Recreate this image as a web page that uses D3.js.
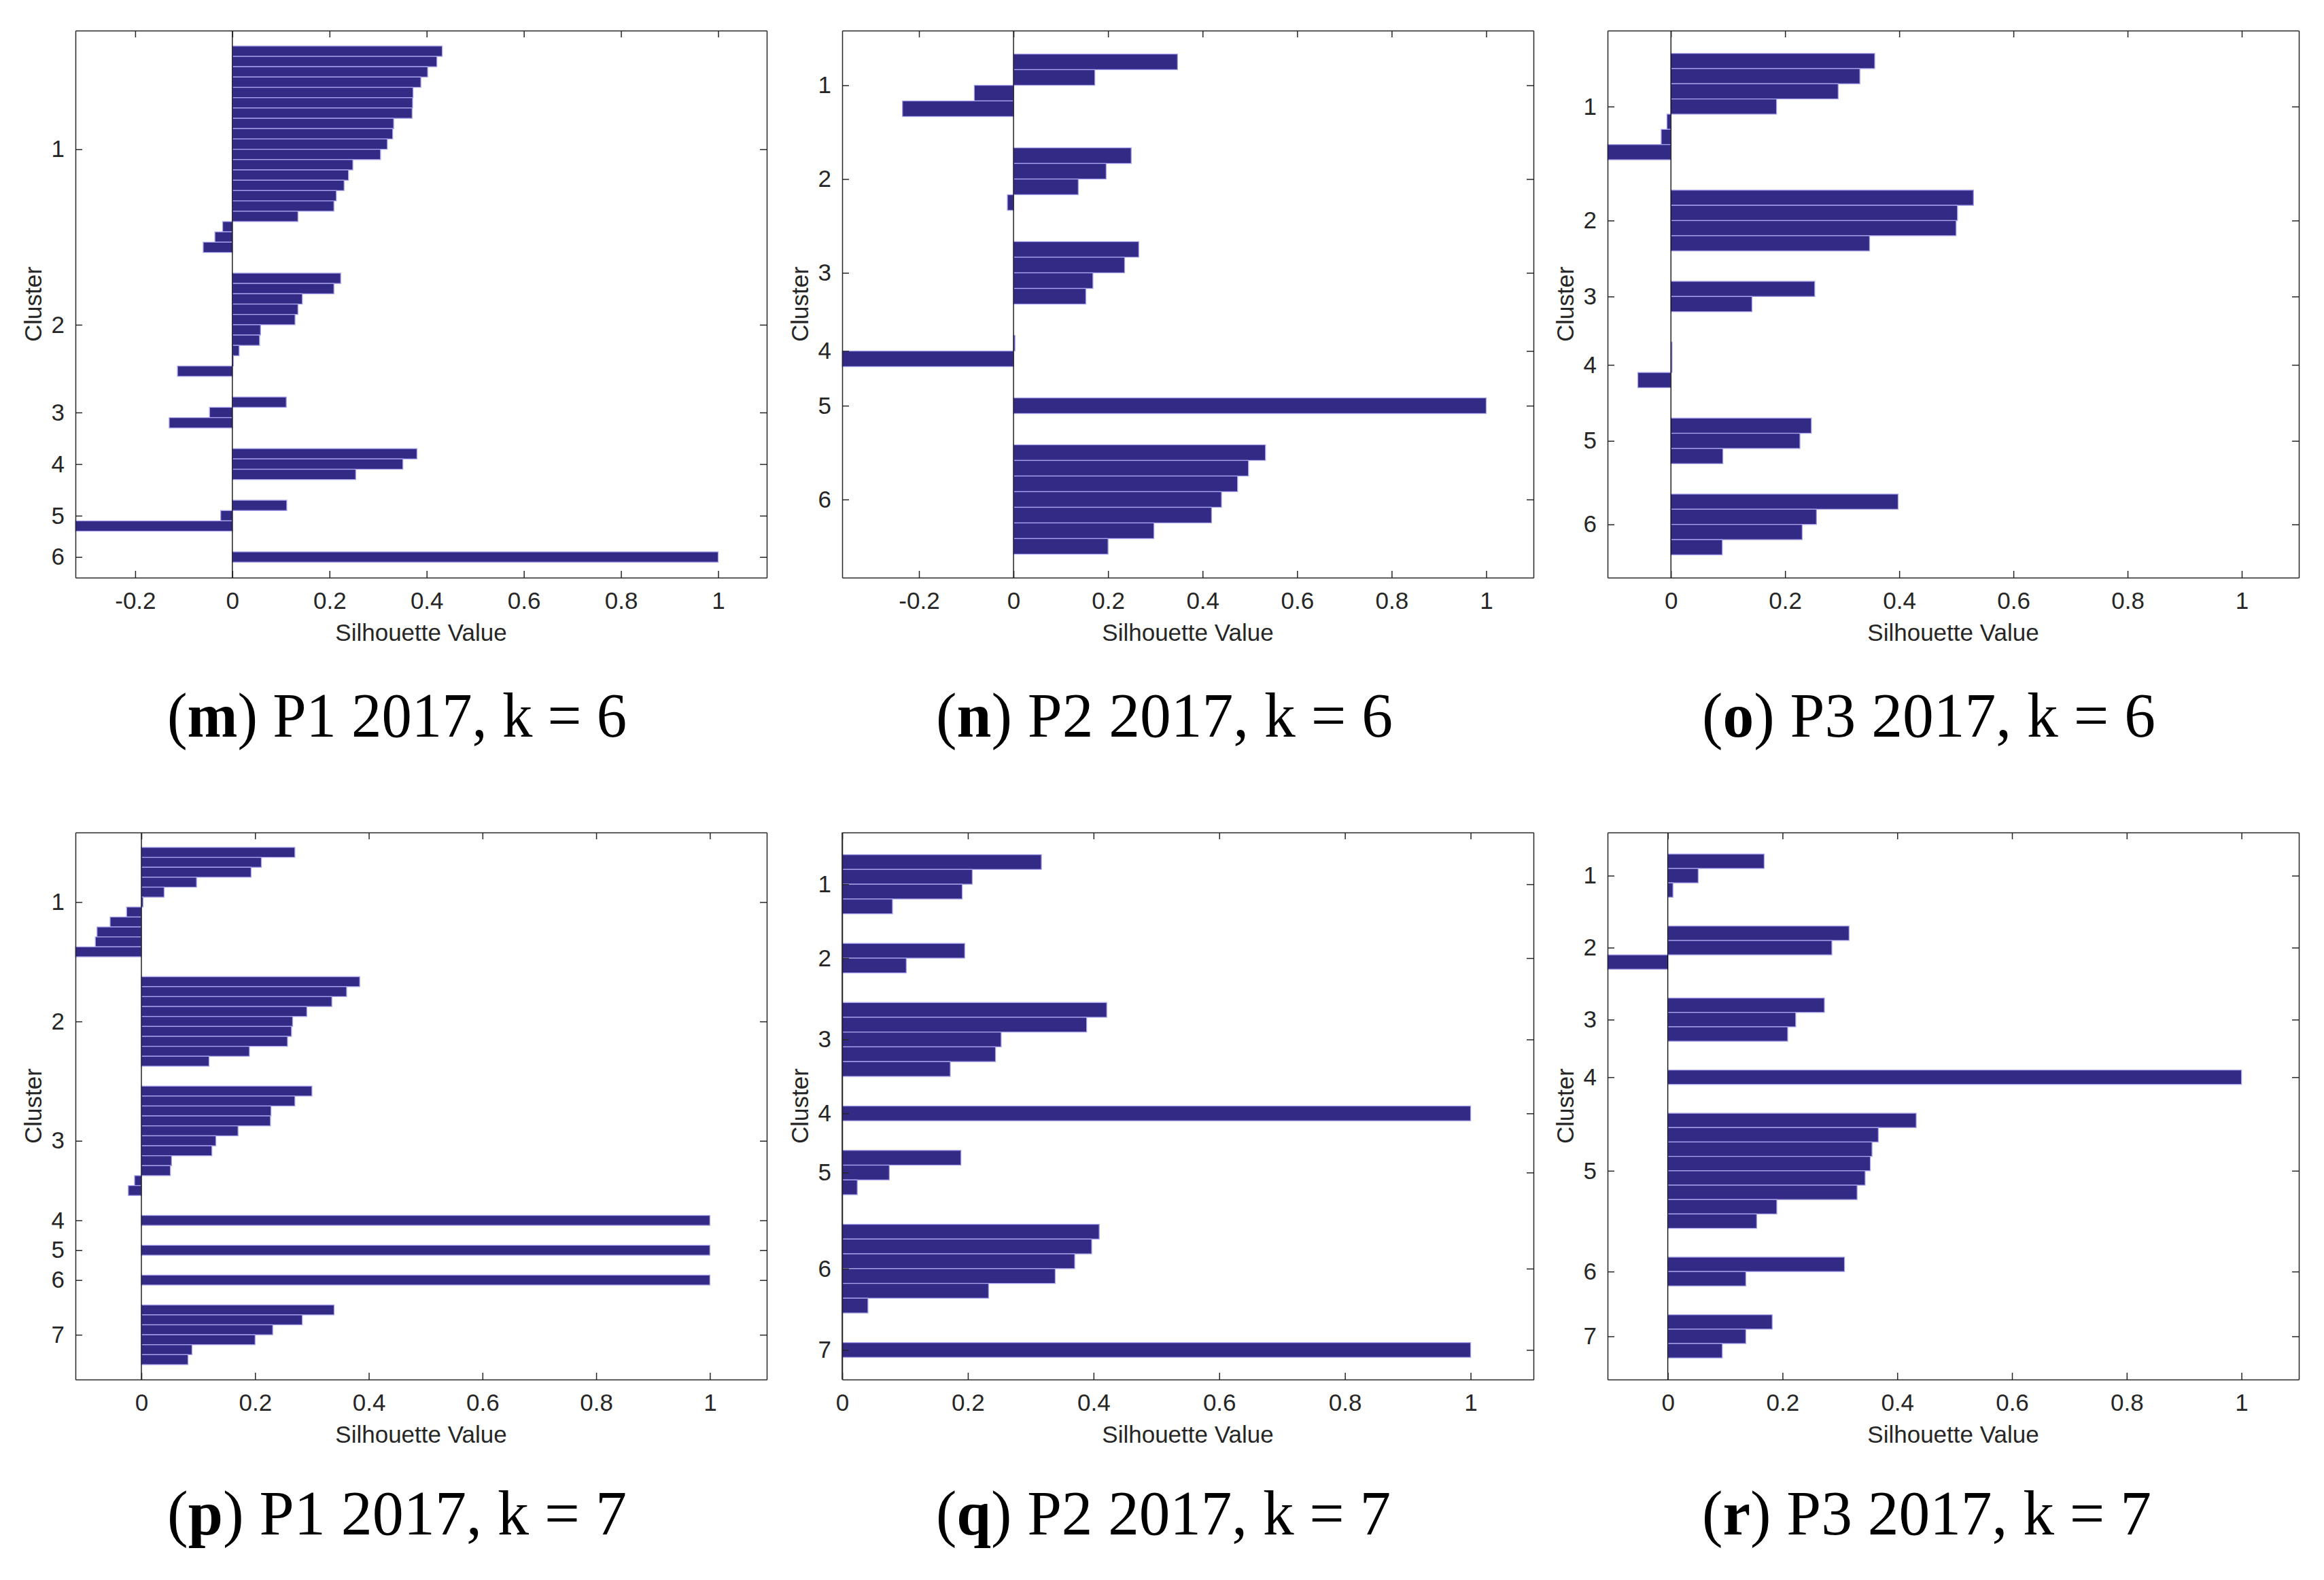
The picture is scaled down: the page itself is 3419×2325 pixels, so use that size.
<!DOCTYPE html>
<html>
<head>
<meta charset="utf-8">
<script src="https://cdn.jsdelivr.net/npm/d3@7"></script>
<style>
  html, body { margin: 0; padding: 0; background: #ffffff; }
  svg { display: block; }
</style>
</head>
<body>
<script>
// ---- Data: silhouette values per cluster (sorted within cluster) ----
const P1_2017_k6 = [
  [0.432,0.421,0.402,0.388,0.372,0.371,0.370,0.332,0.330,0.319,0.305,0.248,0.239,0.230,0.214,0.209,0.135,-0.020,-0.036,-0.060],
  [0.223,0.209,0.144,0.135,0.129,0.058,0.056,0.014,0.002,-0.113],
  [0.111,-0.047,-0.130],
  [0.380,0.351,0.254],
  [0.112,-0.024,-0.323],
  [1.0]
];
const P2_2017_k6 = [
  [0.347,0.172,-0.083,-0.235],
  [0.249,0.196,0.137,-0.013],
  [0.265,0.235,0.168,0.153],
  [0.003,-0.3625],
  [1.0],
  [0.533,0.497,0.474,0.440,0.419,0.297,0.200]
];
const P3_2017_k6 = [
  [0.357,0.331,0.293,0.185,-0.007,-0.017,-0.111],
  [0.530,0.502,0.4996,0.348],
  [0.252,0.142],
  [0.002,0.002,-0.058],
  [0.246,0.226,0.091],
  [0.398,0.255,0.230,0.090]
];
const P1_2017_k7 = [
  [0.270,0.211,0.193,0.097,0.040,0.003,-0.026,-0.055,-0.078,-0.081,-0.116],
  [0.384,0.361,0.335,0.291,0.266,0.264,0.257,0.190,0.119],
  [0.300,0.270,0.228,0.227,0.170,0.131,0.124,0.053,0.051,-0.012,-0.023],
  [1.0],
  [1.0],
  [1.0],
  [0.339,0.283,0.231,0.200,0.089,0.082]
];
const P2_2017_k7 = [
  [0.317,0.207,0.191,0.080],
  [0.195,0.102],
  [0.421,0.389,0.253,0.244,0.172],
  [1.0],
  [0.189,0.075,0.024],
  [0.409,0.397,0.370,0.339,0.233,0.041],
  [1.0]
];
const P3_2017_k7 = [
  [0.168,0.053,0.009],
  [0.316,0.286,-0.105],
  [0.273,0.223,0.209],
  [1.0],
  [0.433,0.367,0.356,0.353,0.344,0.330,0.190,0.155],
  [0.308,0.136],
  [0.182,0.136,0.095]
];

const xTickValues = [-0.2, 0, 0.2, 0.4, 0.6, 0.8, 1];
const captionLetters = ["m", "n", "o", "p", "q", "r"];
const captionTexts = [" P1 2017, k = 6", " P2 2017, k = 6", " P3 2017, k = 6",
                      " P1 2017, k = 7", " P2 2017, k = 7", " P3 2017, k = 7"];
const panelData = [P1_2017_k6, P2_2017_k6, P3_2017_k6, P1_2017_k7, P2_2017_k7, P3_2017_k7];

// ---- Layout ----
const W = 3419, H = 2325;
const colLeft = [111, 1239, 2365];
const rowTop = [45, 1225];
const axW = 1017, axH = 805;
const capStart = [246, 1377, 2504];
const capWidth = [676, 672, 667, 676, 669, 661];
const capBaseline = [1084, 2258];
const ink = "#262626";
const barFill = "#322A84";
const barEdge = "#A9A5EE";
const sans = "'Liberation Sans', Arial, sans-serif";
const fs = 35;

const svg = d3.select("body").append("svg")
  .attr("width", W).attr("height", H)
  .attr("viewBox", `0 0 ${W} ${H}`);
svg.append("rect").attr("width", W).attr("height", H).attr("fill", "#fff");

const fmt = v => (Math.abs(v) < 1e-9 ? "0" : String(+v.toFixed(1)));

panelData.forEach((clusters, pi) => {
  const col = pi % 3, row = Math.floor(pi / 3);
  const left = colLeft[col], top = rowTop[row];
  const n = d3.sum(clusters, c => c.length);
  const space = Math.max(Math.floor(0.02 * n), 2);

  // Build row indices like MATLAB's silhouette
  const rows = [];
  const mids = [];
  let idx = space;
  clusters.forEach((vals) => {
    const start = idx + 1;
    vals.forEach(v => { idx += 1; rows.push({ i: idx, v: v }); });
    mids.push((start + idx) / 2);
    idx += space;
  });
  const N = idx;

  const allVals = clusters.flat();
  const xMin = Math.min(0, d3.min(allVals));
  const x = d3.scaleLinear().domain([xMin, 1.1]).range([left, left + axW]);
  const y = d3.scaleLinear().domain([1, N]).range([top, top + axH]);

  const g = svg.append("g");

  // Bars
  g.append("g").selectAll("rect").data(rows).join("rect")
    .attr("x", d => x(Math.min(0, d.v)))
    .attr("y", d => y(d.i - 0.5))
    .attr("width", d => Math.abs(x(d.v) - x(0)))
    .attr("height", d => y(d.i + 0.5) - y(d.i - 0.5))
    .attr("fill", barFill)
    .attr("stroke", barEdge)
    .attr("stroke-width", 1.3);

  // Zero baseline
  g.append("line")
    .attr("x1", x(0)).attr("x2", x(0))
    .attr("y1", top).attr("y2", top + axH)
    .attr("stroke", "#000").attr("stroke-width", 1.3);

  const xt = xTickValues.filter(v => v >= xMin - 1e-9 && v <= 1.1);

  const styleAxis = sel => {
    sel.attr("color", ink).attr("font-family", sans).attr("font-size", fs);
    sel.selectAll("path, line").attr("stroke-width", 1.5);
    sel.selectAll("text").attr("fill", ink);
  };

  g.append("g").attr("transform", `translate(0,${top + axH})`)
    .call(d3.axisBottom(x).tickValues(xt).tickFormat(fmt)
      .tickSizeInner(-10).tickSizeOuter(0).tickPadding(21))
    .call(styleAxis);
  g.append("g").attr("transform", `translate(0,${top})`)
    .call(d3.axisTop(x).tickValues(xt).tickFormat("")
      .tickSizeInner(-10).tickSizeOuter(0))
    .call(styleAxis);
  g.append("g").attr("transform", `translate(${left},0)`)
    .call(d3.axisLeft(y).tickValues(mids).tickFormat((d, i) => String(i + 1))
      .tickSizeInner(-10).tickSizeOuter(0).tickPadding(16))
    .call(styleAxis);
  g.append("g").attr("transform", `translate(${left + axW},0)`)
    .call(d3.axisRight(y).tickValues(mids).tickFormat("")
      .tickSizeInner(-10).tickSizeOuter(0))
    .call(styleAxis);

  // Axis labels
  g.append("text")
    .attr("x", left + axW / 2).attr("y", top + axH + 93)
    .attr("text-anchor", "middle")
    .attr("font-family", sans)
    .attr("font-size", fs).attr("fill", ink)
    .text("Silhouette Value");
  g.append("text")
    .attr("transform", `translate(${left - 50},${top + axH / 2}) rotate(-90)`)
    .attr("text-anchor", "middle")
    .attr("font-family", sans)
    .attr("font-size", fs).attr("fill", ink)
    .text("Cluster");

  // Caption
  const cap = svg.append("text")
    .attr("x", capStart[col]).attr("y", capBaseline[row])
    .attr("font-family", "'Liberation Serif', 'Times New Roman', serif")
    .attr("font-size", 94).attr("fill", "#000")
    .attr("textLength", capWidth[pi]).attr("lengthAdjust", "spacingAndGlyphs");
  cap.append("tspan").text("(");
  cap.append("tspan").attr("font-weight", "bold").text(captionLetters[pi]);
  cap.append("tspan").text(")" + captionTexts[pi]);
});
</script>
</body>
</html>
